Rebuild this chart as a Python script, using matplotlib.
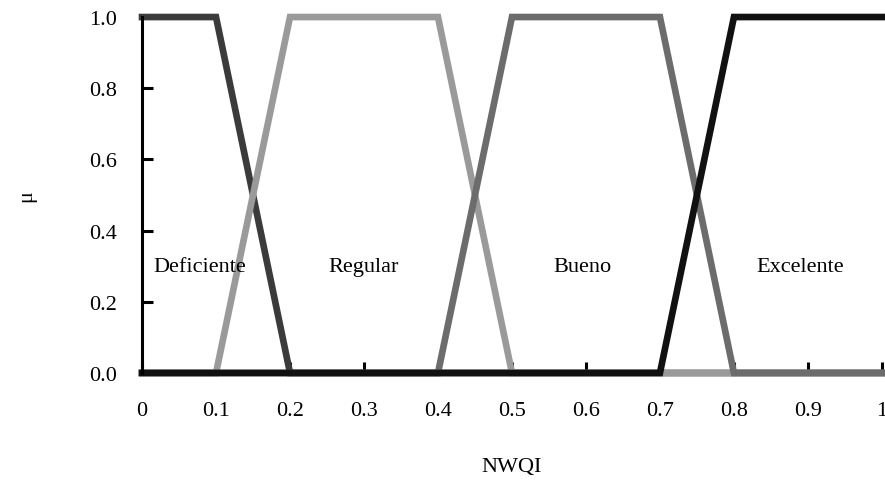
import matplotlib
matplotlib.use("Agg")
import matplotlib.pyplot as plt

# membership functions of the NWQI fuzzy sets
x_def = [0.0, 0.1, 0.2, 1.0]
mu_def = [1, 1, 0, 0]
x_reg = [0.0, 0.1, 0.2, 0.4, 0.5, 1.0]
mu_reg = [0, 0, 1, 1, 0, 0]
x_bue = [0.0, 0.4, 0.5, 0.7, 0.8, 1.0]
mu_bue = [0, 0, 1, 1, 0, 0]
x_exc = [0.0, 0.7, 0.8, 1.0]
mu_exc = [0, 0, 1, 1]

labels = ["Deficiente", "Regular", "Bueno", "Excelente"]
x_ticks = [0, 0.1, 0.2, 0.3, 0.4, 0.5, 0.6, 0.7, 0.8, 0.9, 1.0]
x_ticklabels = ["0", "0.1", "0.2", "0.3", "0.4", "0.5", "0.6", "0.7", "0.8", "0.9", "1"]
y_ticks = [0.0, 0.2, 0.4, 0.6, 0.8, 1.0]
y_ticklabels = ["0.0", "0.2", "0.4", "0.6", "0.8", "1.0"]

plt.rcParams["font.family"] = ["Liberation Serif", "DejaVu Serif"]

fig = plt.figure(figsize=(8.85, 4.81), dpi=100)
ax = fig.add_axes([0.1605, 0.2225, 0.836, 0.740])

lw = 4.8
ax.plot(x_def, mu_def, color="#3b3b3b", linewidth=lw, clip_on=False, solid_joinstyle="miter")
ax.plot(x_reg, mu_reg, color="#9a9a9a", linewidth=lw, clip_on=False, solid_joinstyle="miter")
ax.plot(x_bue, mu_bue, color="#6c6c6c", linewidth=lw, clip_on=False, solid_joinstyle="miter")
ax.plot(x_exc, mu_exc, color="#111111", linewidth=lw, clip_on=False, solid_joinstyle="miter")

# set names written inside the plot
for name, xc in zip(labels, [0.078, 0.30, 0.595, 0.89]):
    ax.text(xc, 0.3, name, ha="center", va="center", fontsize=16)

ax.set_xlim(0, 1)
ax.set_ylim(0, 1)
ax.set_xticks(x_ticks)
ax.set_xticklabels(x_ticklabels)
ax.set_yticks(y_ticks)
ax.set_yticklabels(y_ticklabels)
ax.tick_params(axis="both", direction="in", labelsize=16, width=2.2, color="black")
ax.tick_params(axis="y", length=8, pad=18)
ax.tick_params(axis="x", length=8, pad=20)

for side in ["top", "right", "bottom"]:
    ax.spines[side].set_visible(False)
ax.spines["left"].set_linewidth(2.2)

ax.set_xlabel("NWQI", fontsize=16, labelpad=27)
ax.set_ylabel("μ", fontsize=16, labelpad=38)

fig.savefig("out.png", dpi=100)
